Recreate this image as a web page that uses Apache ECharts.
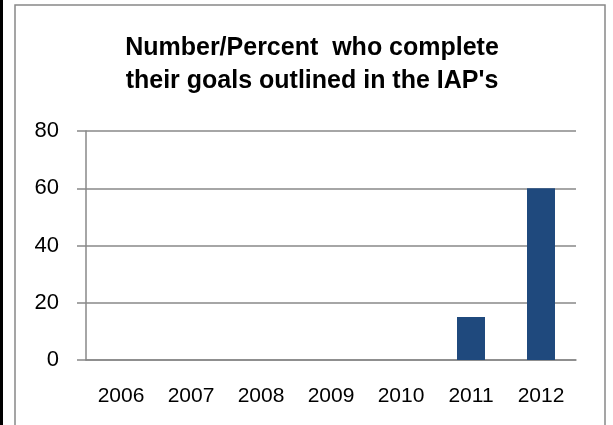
<!DOCTYPE html>
<html><head><meta charset="utf-8">
<script src="https://cdn.jsdelivr.net/npm/echarts@6/dist/echarts.min.js"></script>
<style>html,body{margin:0;padding:0;background:#fff}#c{width:613px;height:425px}</style>
</head><body><div id="c"></div>
<script>
const categories = ['2006','2007','2008','2009','2010','2011','2012'];
const values = [0, 0, 0, 0, 0, 15, 60];
const titleLines = ['Number/Percent  who complete', "their goals outlined in the IAP's"];
const yTicks = [0, 20, 40, 60, 80];

const chart = echarts.init(document.getElementById('c'), null, {renderer: 'canvas'});
const font = 'Liberation Sans, Arial, sans-serif';
chart.setOption({
  animation: false,
  backgroundColor: '#fff',
  graphic: [
    {type: 'rect', shape: {x: 15, y: 5, width: 590, height: 430}, style: {fill: 'none', stroke: '#888', lineWidth: 1.5}, silent: true},
    {type: 'rect', shape: {x: 0, y: -5, width: 3, height: 440}, style: {fill: '#000'}, silent: true}
  ],
  title: {
    text: titleLines.join('\n'),
    left: 307, top: 27, textAlign: 'center',
    textStyle: {fontFamily: font, fontWeight: 'bold', fontSize: 25, lineHeight: 33, color: '#000'}
  },
  grid: {left: 86, right: 613 - 576, top: 131, bottom: 425 - 360, containLabel: false},
  xAxis: {
    type: 'category', data: categories,
    axisLine: {lineStyle: {color: '#888', width: 1.5}},
    axisTick: {show: false},
    axisLabel: {fontFamily: font, fontSize: 21, color: '#000', margin: 26}
  },
  yAxis: {
    type: 'value', min: yTicks[0], max: yTicks[yTicks.length - 1], interval: 20,
    axisLine: {show: true, lineStyle: {color: '#888', width: 1.5}},
    axisTick: {show: true, length: 9, lineStyle: {color: '#888', width: 1.5}},
    splitLine: {lineStyle: {color: '#888', width: 1.5}},
    axisLabel: {fontFamily: font, fontSize: 22, color: '#000', margin: 27}
  },
  series: [{
    type: 'bar', data: values, barWidth: '40%',
    itemStyle: {color: '#1F497D'}
  }]
});
</script></body></html>
